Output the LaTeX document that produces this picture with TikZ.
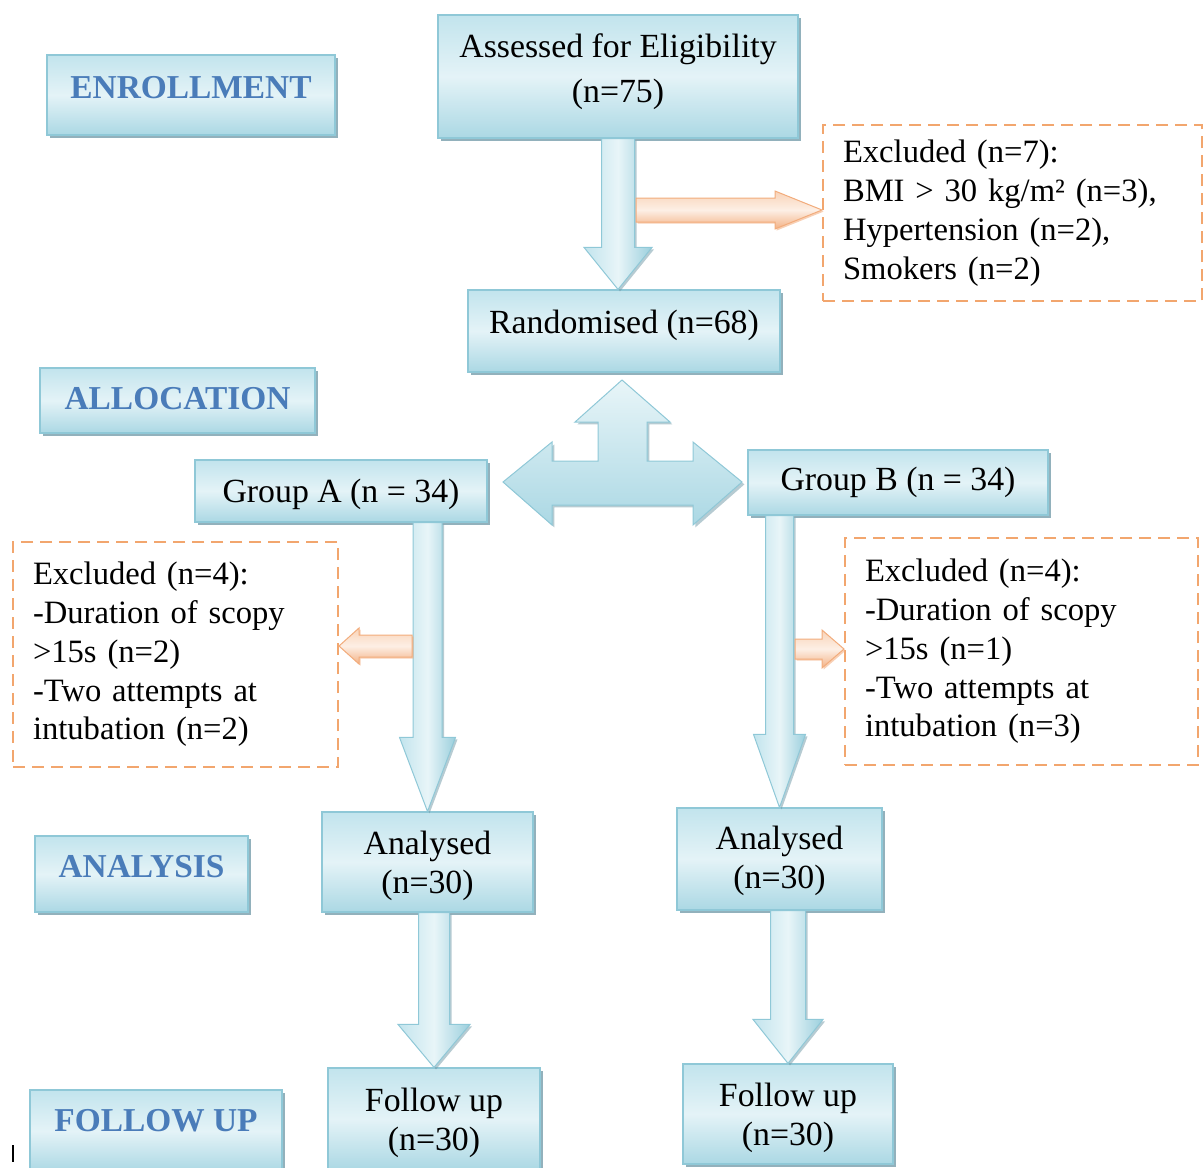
\documentclass[tikz,border=0pt]{standalone}
\usepackage{fontspec}
\setmainfont{Liberation Serif}
\usetikzlibrary{shadows,calc}
\definecolor{boxtop}{HTML}{C2E4ED}
\definecolor{boxmid}{HTML}{E4F3F7}
\definecolor{boxbot}{HTML}{ABD8E4}
\definecolor{boxline}{HTML}{8FC8D7}
\definecolor{shadowc}{HTML}{6E97A5}
\definecolor{labelblue}{HTML}{4A7CB9}
\definecolor{dashorange}{HTML}{F2A66E}
\definecolor{arrL}{HTML}{C2E4ED}
\definecolor{arrM}{HTML}{E8F5F8}
\definecolor{arrR}{HTML}{9BCFDD}
\definecolor{orT}{HTML}{F9D3B7}
\definecolor{orM}{HTML}{FDEFE5}
\definecolor{orB}{HTML}{F3B184}
\definecolor{orLine}{HTML}{F2AC7C}
\newcommand\blockdown[6]{%
  \path[#1] let \p1=(#2), \p2=(#3) in
    ({\x2-#4},{\y1}) -- ({\x2+#4},{\y1}) -- ({\x2+#4},{\y2+#6}) -- ({\x2+#5},{\y2+#6})
    -- (\x2,\y2) -- ({\x2-#5},{\y2+#6}) -- ({\x2-#4},{\y2+#6}) -- cycle;}
\newcommand\blockh[6]{%
  \path[#1] let \p1=(#2), \p2=(#3) in
    ({\x1},{\y2-#4}) -- ({\x2-(#6)},{\y2-#4}) -- ({\x2-(#6)},{\y2-#5}) -- (\x2,\y2)
    -- ({\x2-(#6)},{\y2+#5}) -- ({\x2-(#6)},{\y2+#4}) -- ({\x1},{\y2+#4}) -- cycle;}
\begin{document}
\begin{tikzpicture}[x=0.5pt,y=-0.5pt,
  bluebox/.style={draw=boxline, line width=0.6pt, top color=boxtop, bottom color=boxbot, middle color=boxmid,
    drop shadow={shadow xshift=1.6pt, shadow yshift=-1.6pt, fill=shadowc, opacity=0.75}, inner sep=0pt},
  btext/.style={font=\fontsize{16.9}{22.5}\selectfont, align=center, inner sep=0pt},
  twoline/.style={font=\fontsize{16.9}{19.5}\selectfont},
  stext/.style={font=\fontsize{16.7}{20}\selectfont\bfseries, text=labelblue, inner sep=0pt},
  dashbox/.style={draw=dashorange, line width=1pt, dash pattern=on 6pt off 3.5pt, fill=white,
    align=left, inner xsep=10pt, inner ysep=0pt, font=\fontsize{16.3}{19.4}\selectfont},
  bluearrow/.style={draw=boxline, line width=0.5pt, left color=arrL, right color=arrR, middle color=arrM,
    drop shadow={shadow xshift=1pt, shadow yshift=-1pt, fill=shadowc, opacity=0.5}},
  orangearrow/.style={draw=orLine, line width=0.5pt, top color=orT, bottom color=orB, middle color=orM,
    drop shadow={shadow xshift=0.8pt, shadow yshift=-0.8pt, fill=orB, opacity=0.6}},
  hubarrow/.style={draw=boxline, line width=0.5pt, top color=arrM, bottom color=boxbot,
    drop shadow={shadow xshift=1.2pt, shadow yshift=-1.2pt, fill=shadowc, opacity=0.5}}
]
\useasboundingbox (0,0) rectangle (1204,1167);
\clip (0,0) rectangle (1204,1167);

% section labels
\node[bluebox, minimum width=144pt, minimum height=40pt] (enroll) at (191,95) {};
\node[stext] (enrollT) at ([yshift=3.5pt]enroll.center) {ENROLLMENT};
\node[bluebox, minimum width=137.5pt, minimum height=32.5pt] (alloc) at (177.5,400.5) {};
\node[stext] (allocT) at ([yshift=1pt]alloc.center) {ALLOCATION};
\node[bluebox, minimum width=106.5pt, minimum height=38pt] (analysis) at (141.5,874) {};
\node[stext] (analysisT) at ([yshift=3.5pt]analysis.center) {ANALYSIS};
\node[bluebox, minimum width=126pt, minimum height=41pt] (fu) at (156,1131) {};
\node[stext] (fuT) at ([yshift=5pt]fu.center) {FOLLOW UP};

% flow boxes
\node[bluebox, minimum width=180pt, minimum height=61.5pt] (assess) at (618,76.5) {};
\node[btext] (assessT) at ([yshift=2.5pt]assess.center) {Assessed for Eligibility\\(n=75)};
\node[dashbox, minimum width=189.5pt, minimum height=88pt, text width=169.5pt] (excl) at (1012.5,213)
  {Excluded (n=7):\\BMI > 30 kg/m² (n=3),\\Hypertension (n=2),\\Smokers (n=2)};
\node[bluebox, minimum width=156pt, minimum height=41pt] (random) at (624,331) {};
\node[btext] (randomT) at ([yshift=3pt]random.center) {Randomised (n=68)};
\node[bluebox, minimum width=146pt, minimum height=31pt] (ga) at (341,491) {};
\node[btext] (gaT) at ([yshift=-1.5pt]ga.center) {Group A (n = 34)};
\node[bluebox, minimum width=150pt, minimum height=32.5pt] (gb) at (898,482.5) {};
\node[btext] (gbT) at (gb.center) {Group B (n = 34)};
\node[dashbox, minimum width=162.5pt, minimum height=112.5pt, text width=142.5pt] (exa) at (175.5,654.5)
  {Excluded (n=4):\\-Duration of scopy\\>15s (n=2)\\-Two attempts at\\intubation (n=2)};
\node[dashbox, minimum width=176.5pt, minimum height=113.5pt, text width=156.5pt] (exb) at (1021.5,651.5)
  {Excluded (n=4):\\-Duration of scopy\\>15s (n=1)\\-Two attempts at\\intubation (n=3)};
\node[bluebox, minimum width=105.5pt, minimum height=50pt] (ana) at (427.5,862) {};
\node[btext, twoline] (anaT) at ([yshift=-2pt]ana.center) {Analysed\\(n=30)};
\node[bluebox, minimum width=102.5pt, minimum height=51pt] (anb) at (779.5,859) {};
\node[btext, twoline] (anbT) at ([yshift=-1pt]anb.center) {Analysed\\(n=30)};
\node[bluebox, minimum width=106pt, minimum height=51pt] (fa) at (434,1119) {};
\node[btext, twoline] (faT) at ([yshift=-2pt]fa.center) {Follow up\\(n=30)};
\node[bluebox, minimum width=105pt, minimum height=50pt] (fb) at (788,1114) {};
\node[btext, twoline] (fbT) at ([yshift=-2pt]fb.center) {Follow up\\(n=30)};

% block arrows
\blockdown{bluearrow}{assess.south}{assess.south |- random.north}{8.25pt}{17pt}{21pt}
\coordinate (s1) at (636,210);
\blockh{orangearrow}{s1}{s1 -| excl.west}{6pt}{9.5pt}{23.5pt}

\coordinate (hub) at (622,482);
\path[hubarrow, shift={(hub)}]
  (0,-102) -- (48,-60) -- (25,-60) -- (25,-21) -- (71,-21) -- (71,-40) -- (120,0)
  -- (71,43) -- (71,23) -- (-70,23) -- (-70,43) -- (-119,0) -- (-70,-40) -- (-70,-21)
  -- (-24,-21) -- (-24,-60) -- (-47,-60) -- cycle;

\blockdown{bluearrow}{ana.north |- ga.south}{ana.north}{7.25pt}{14pt}{37pt}
\blockdown{bluearrow}{anb.north |- gb.south}{anb.north}{7pt}{13pt}{36.5pt}
\coordinate (oa) at (412,646);
\blockh{orangearrow}{oa}{oa -| exa.east}{5.5pt}{9pt}{-10pt}
\coordinate (ob) at (795,649);
\blockh{orangearrow}{ob}{ob -| exb.west}{5pt}{9.5pt}{11pt}

\blockdown{bluearrow}{fa.north |- ana.south}{fa.north}{7.75pt}{18pt}{21.5pt}
\blockdown{bluearrow}{fb.north |- anb.south}{fb.north}{8.75pt}{17.5pt}{22pt}

% stray mark
\coordinate (m1) at (13,1145);
\coordinate (m2) at (13,1162);
\draw[line width=0.6pt] (m1) -- (m2);
\end{tikzpicture}
\end{document}
